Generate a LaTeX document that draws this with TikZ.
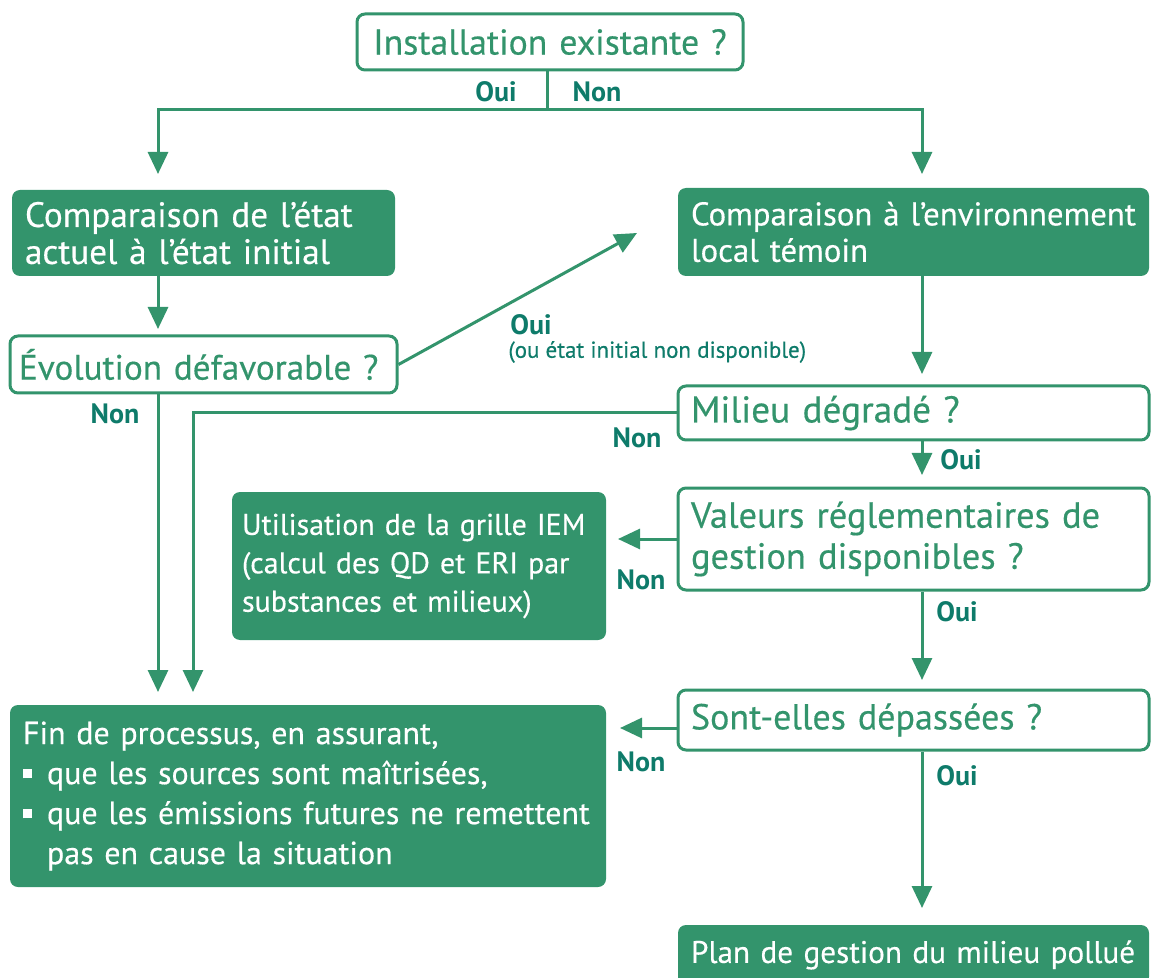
\documentclass[tikz,border=0pt]{standalone}
\usepackage{fontspec}
\setmainfont{PT Sans}[UprightFeatures={FakeBold=0.4}]
\usetikzlibrary{arrows.meta}
\definecolor{gfill}{HTML}{33946C}
\definecolor{glab}{HTML}{0E7B6A}
\newcommand{\bul}{\makebox[0.75em][l]{\rule[0.18em]{0.28em}{0.28em}}}
\newcommand{\fs}[2]{\fontsize{#1}{#2}\selectfont}
\tikzset{
  box/.style={rounded corners=4pt, inner xsep=6.5pt, inner ysep=2pt, align=left},
  filled/.style={box, fill=gfill, text=white},
  outl/.style={box, draw=gfill, line width=1.5pt, text=gfill, fill=white},
  conn/.style={draw=gfill, line width=1.5pt},
  arr/.style={conn, -{Triangle[length=11pt,width=10pt]}},
  lab/.style={text=glab, font=\bfseries\fs{14}{16}, inner sep=0pt},
}
\begin{document}
\begin{tikzpicture}[x=0.5pt,y=-0.5pt]
\useasboundingbox (0,0) rectangle (1151,978);
% nodes
\node[outl, text width=180pt, align=center, minimum height=28pt, font=\fs{17.9}{20}] (inst) at (550,42) {Installation existante ?};
\node[filled, text width=178.5pt, minimum height=43pt, font=\fs{17.6}{18.5}] (comp1) at (203.5,233) {Comparaison de l’état\\actuel à l’état initial};
\node[filled, text width=222.5pt, minimum height=44pt, font=\fs{16.4}{18.2}] (comp2) at (913.5,232) {Comparaison à l’environnement\\local témoin};
\node[outl, text width=184.5pt, inner xsep=4.5pt, minimum height=28.5pt, font=\fs{17.6}{20}] (evo) at (203.5,364.5) {Évolution défavorable ?};
\node[outl, text width=222.5pt, minimum height=27pt, font=\fs{18.6}{20}] (mil) at (913.5,413) {Milieu dégradé ?};
\node[outl, text width=222.5pt, minimum height=51pt, font=\fs{18.2}{20.5}] (val) at (913.5,539) {Valeurs réglementaires de\\gestion disponibles ?};
\node[filled, text width=177pt, inner xsep=5pt, minimum height=74pt, font=\fs{15}{19.2}] (iem) at (419,566) {Utilisation de la grille IEM\\(calcul des QD et ERI par\\substances et milieux)};
\node[outl, text width=222.5pt, minimum height=30pt, font=\fs{18}{20}] (sont) at (913.5,720) {Sont-elles dépassées ?};
\node[filled, text width=285pt, minimum height=91pt, font=\fs{16}{20}] (fin) at (308,796) {Fin de processus, en assurant,\\\bul que les sources sont maîtrisées,\\\bul que les émissions futures ne remettent\\\hspace*{0.75em}pas en cause la situation};
\node[filled, text width=222.5pt, minimum height=30pt, font=\fs{15.6}{18}] (plan) at (913.5,955) {Plan de gestion du milieu pollué};
% coordinates
\coordinate (split) at (547,110);
\coordinate (c1in) at (158,174);
\coordinate (c2in) at (922,174);
\coordinate (evoin) at (158,329);
\coordinate (evoup) at (637,233);
\coordinate (milin) at (922,374);
\coordinate (finin1) at (158,692);
\coordinate (finin2) at (193,692);
\coordinate (valin) at (922,475);
\coordinate (iemin) at (618,539);
\coordinate (sontin) at (922,680);
\coordinate (finin3) at (620,728);
\coordinate (planin) at (922,908);
% connectors
\draw[conn] (inst.south -| split) -- (split);
\draw[arr] (split) -| (c1in);
\draw[arr] (split) -| (c2in);
\draw[arr] (comp1.south -| c1in) -- (evoin);
\draw[arr] (evo.east) -- (evoup);
\draw[arr] (comp2.south -| c2in) -- (milin);
\draw[arr] (evo.south -| c1in) -- (finin1);
\draw[arr] (mil.west) -| (finin2);
\draw[arr] (mil.south -| c2in) -- (valin);
\draw[arr] (val.west) -- (iemin);
\draw[arr] (val.south -| c2in) -- (sontin);
\draw[arr] (finin3 -| sont.west) -- (finin3);
\draw[arr] (sont.south -| c2in) -- (planin);
% labels
\node[lab] (l1) at (496,92) {Oui};
\node[lab] (l2) at (597,92) {Non};
\node[lab, anchor=west] (l3) at (510,325) {Oui};
\node[text=glab, font=\fs{11.5}{13}, inner sep=0pt, anchor=west] (l3b) at (508,352) {(ou état initial non disponible)};
\node[lab] (l4) at (115,414) {Non};
\node[lab] (l5) at (637,438) {Non};
\node[lab, anchor=west] (l6) at (940,460) {Oui};
\node[lab] (l7) at (641,580) {Non};
\node[lab, anchor=west] (l8) at (936,612) {Oui};
\node[lab] (l9) at (641,762) {Non};
\node[lab, anchor=west] (l10) at (936,776) {Oui};
\end{tikzpicture}
\end{document}
